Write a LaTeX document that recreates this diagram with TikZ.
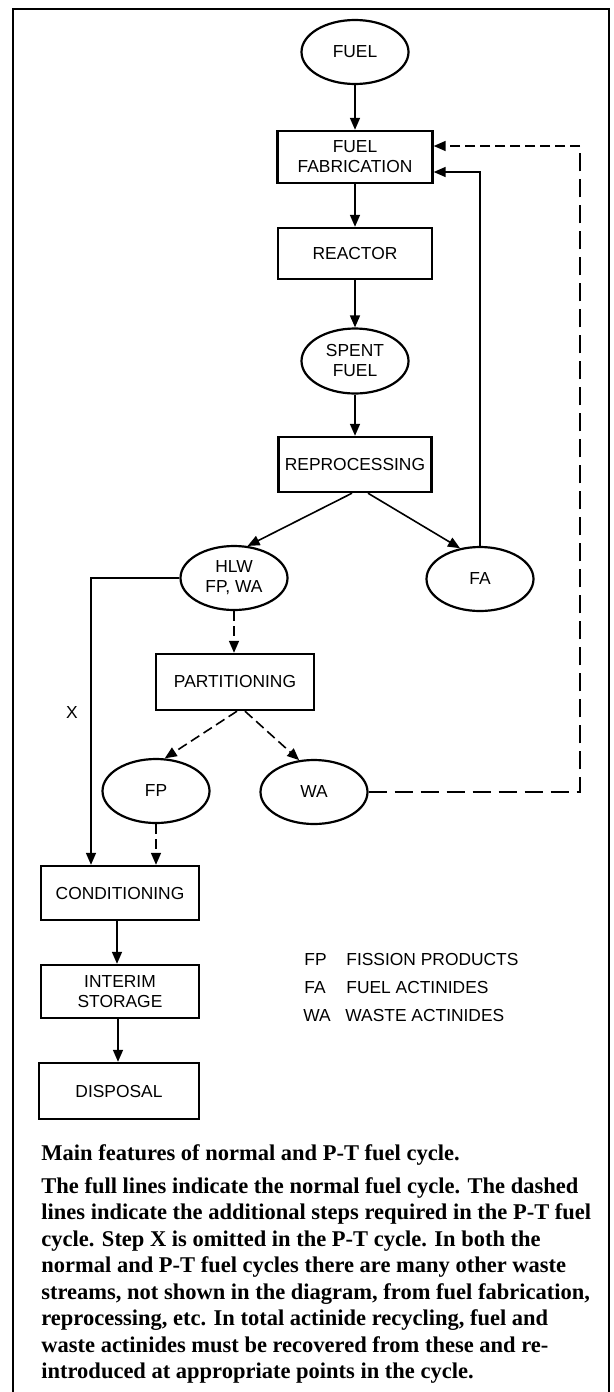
\documentclass[tikz,border=0pt]{standalone}
\usepackage{fontspec}
\setmainfont{Liberation Serif}
\newfontfamily\lab{Liberation Sans}
\usetikzlibrary{shapes.geometric,arrows.meta}
\begin{document}
\begin{tikzpicture}[x=0.5pt,y=-0.5pt,
  every node/.style={font=\lab\fontsize{8.7}{10}\selectfont},
  oval/.style={draw,ellipse,line width=1.1pt,minimum width=53.5pt,minimum height=32pt,inner sep=0pt,align=center},
  box/.style={draw,rectangle,line width=1.2pt,inner sep=0pt,align=center},
  flow/.style={line width=0.8pt,-{Triangle[length=6pt,width=5pt]}},
  ptflow/.style={flow,dash pattern=on 5pt off 2.5pt},
  longdash/.style={line width=0.8pt,dash pattern=on 9pt off 4pt},
  legend/.style={anchor=base west,inner sep=0pt},
  captext/.style={font=\rmfamily\bfseries\fontsize{11.25}{13.25}\selectfont,inner sep=0pt}]
\useasboundingbox (0,0) rectangle (614,1392);
\draw[line width=1.3pt] (13,1392) -- (13,9) -- (609,9) -- (609,1392);

\node[oval] (fuel) at (355,52) {FUEL};
\node[box,minimum width=77.5pt,minimum height=26pt] (fab) at (355,157) {FUEL\\FABRICATION};
\node[box,minimum width=77pt,minimum height=25.5pt] (reactor) at (355,253.5) {REACTOR};
\node[oval,minimum height=32.5pt] (spent) at (355,361) {SPENT\\FUEL};
\node[box,minimum width=76.5pt,minimum height=27.5pt] (reproc) at (355,464.5) {REPROCESSING};
\node[oval] (hlw) at (234,578) {HLW\\FP, WA};
\node[oval] (fa) at (480,579) {FA};
\node[box,minimum width=79pt,minimum height=28pt] (part) at (235,682) {PARTITIONING};
\node[oval] (fp) at (156,791) {FP};
\node[oval] (wa) at (314,792) {WA};
\node[box,minimum width=79pt,minimum height=27pt] (cond) at (120,893) {CONDITIONING};
\node[box,minimum width=79pt,minimum height=26.5pt] (interim) at (120,991.5) {INTERIM\\STORAGE};
\node[box,minimum width=80pt,minimum height=28pt] (disp) at (119,1091) {DISPOSAL};

\draw[flow] (fuel.south) -- (fab.north);
\draw[flow] (fab.south) -- (reactor.north);
\draw[flow] (reactor.south) -- (spent.north);
\draw[flow] (spent.south) -- (reproc.north);
\draw[flow] ([xshift=-1.5pt]reproc.south) -- (hlw.67);
\draw[flow] ([xshift=6.5pt]reproc.south) -- (fa.123);

\coordinate (ca) at (480,172);
\draw[flow] (fa.north) -- (ca) -- (fab.east |- ca);

\coordinate (cw1) at (580,792);
\coordinate (cw2) at (580,146);
\draw[longdash] (wa.east) -- (cw1) -- (cw2);
\draw[ptflow] (cw2) -- (fab.east |- cw2);

\coordinate (cx) at (91,578);
\draw[flow] (hlw.west) -- (cx) -- (cond.north -| cx);
\node (xlab) at (72,713) {X};

\draw[ptflow] (hlw.south) -- (hlw.south |- part.north);
\draw[ptflow] ([xshift=1pt]part.south) -- (fp.75);
\draw[ptflow] ([xshift=5pt]part.south) -- (wa.115);
\draw[ptflow] (fp.south) -- (fp.south |- cond.north);

\draw[flow] ([xshift=-1.5pt]cond.south) -- ([xshift=-1.5pt]cond.south |- interim.north);
\draw[flow] ([xshift=-1pt]interim.south) -- ([xshift=-1pt]interim.south |- disp.north);

\node[legend] (lfp) at (304,965) {FP};
\node[legend] (lfpt) at (346,965) {FISSION PRODUCTS};
\node[legend] (lfa) at (304,993) {FA};
\node[legend] (lfat) at (346,993) {FUEL ACTINIDES};
\node[legend] (lwa) at (303,1021) {WA};
\node[legend] (lwat) at (345,1021) {WASTE ACTINIDES};

\node[captext,anchor=base west] (cap) at (41,1160) {Main features of normal and P-T fuel cycle.};
\node[captext,anchor=north west,align=left] (para) at (41,1177) {The full lines indicate the normal fuel cycle. The dashed\\
lines indicate the additional steps required in the P-T fuel\\
cycle. Step X is omitted in the P-T cycle. In both the\\
normal and P-T fuel cycles there are many other waste\\
streams, not shown in the diagram, from fuel fabrication,\\
reprocessing, etc. In total actinide recycling, fuel and\\
waste actinides must be recovered from these and re-\\
introduced at appropriate points in the cycle.};
\end{tikzpicture}
\end{document}
